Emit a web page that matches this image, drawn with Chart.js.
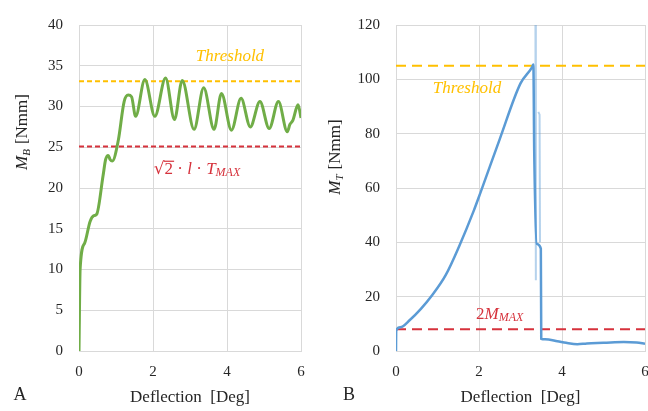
<!DOCTYPE html>
<html>
<head>
<meta charset="utf-8">
<script src="https://cdn.jsdelivr.net/npm/chart.js@4.4.1/dist/chart.umd.min.js"></script>
<style>
  html, body { margin: 0; padding: 0; background: #fff; overflow: hidden; }
  body { width: 648px; height: 411px; position: relative; }
  canvas { position: absolute; top: 0; }
  #chartA { left: 0; }
  #chartB { left: 324px; }
</style>
</head>
<body>
<canvas id="chartA" width="320" height="411"></canvas>
<canvas id="chartB" width="340" height="411"></canvas>
<script>
// panel A - bending moment vs deflection
var bendX = [0, 0.03, 0.15, 0.3, 0.4, 0.48, 0.65, 0.72, 0.79, 0.84, 0.9, 1.06, 1.22, 1.33, 1.42, 1.53, 1.78, 2.05, 2.34, 2.58, 2.79, 3.11, 3.37, 3.65, 3.85, 4.12, 4.38, 4.63, 4.89, 5.14, 5.39, 5.63, 5.7, 5.78, 5.92, 6.0];
var bendY = [0, 10, 13.2, 15.9, 16.6, 16.8, 21.5, 23.5, 24, 23.5, 23.3, 25.8, 30.6, 31.4, 31.2, 28.8, 33.3, 28.8, 33.5, 28.4, 33.2, 27.2, 32.3, 27.2, 31.6, 27.1, 31.0, 27.5, 30.6, 27.3, 30.6, 26.9, 27.8, 28.3, 30.2, 28.6];
var thresholdA = 33.1;
var limitA = 25.1;

// panel B - torsion moment vs deflection
var torsX = [0, 0.005, 0.1, 0.34, 0.6, 0.87, 1.2, 1.52, 1.87, 2.04, 2.5, 3.0, 3.28, 3.31, 3.33, 3.39, 3.49, 3.5, 3.59, 3.89, 4.1, 4.37, 4.6, 5.0, 5.49, 5.8, 6.0];
var torsY = [0, 7.5, 8.7, 11.5, 15.5, 20.5, 28, 38.5, 51.5, 58.5, 78, 98.5, 104.5, 105.5, 74, 39.5, 37.7, 4.5, 4.3, 3.6, 3.0, 2.5, 2.8, 3.0, 3.3, 3.1, 2.7];
var flashX = [3.36, 3.37, 3.4, 3.43, 3.46, 3.47];
var flashY = [120, 26, null, 88, 87, 40];
var thresholdB = 105;
var limitB = 8;

var serif = '"Liberation Serif", "Times New Roman", serif';

function pts(xs, ys) {
  return xs.map(function (x, i) { return { x: x, y: ys[i] }; });
}

function hline(v, color, dash) {
  return {
    data: [{ x: 0, y: v }, { x: 6, y: v }],
    borderColor: color, borderWidth: 2, borderDash: dash,
    pointRadius: 0, fill: false
  };
}

// draw a row of text pieces centred on (cx, cy)
function richText(ctx, parts, cx, cy) {
  var w = 0;
  parts.forEach(function (p) { ctx.font = p.f; w += ctx.measureText(p.t).width + (p.gap || 0); });
  var x = cx - w / 2;
  ctx.textBaseline = 'middle';
  ctx.textAlign = 'left';
  parts.forEach(function (p) {
    ctx.font = p.f;
    ctx.fillStyle = p.c;
    ctx.fillText(p.t, x, cy + (p.dy || 0));
    var pw = ctx.measureText(p.t).width;
    if (p.over) {
      ctx.strokeStyle = p.c;
      ctx.lineWidth = 1.2;
      ctx.beginPath();
      ctx.moveTo(x - 1, cy - 8);
      ctx.lineTo(x + pw + 1, cy - 8);
      ctx.stroke();
    }
    x += pw + (p.gap || 0);
  });
}

var labelPlugin = {
  id: 'labels',
  afterDraw: function (chart) {
    var ctx = chart.ctx, a = chart.chartArea;
    var cfg = chart.options.plugins.labels;
    var xs = chart.scales.x, ys = chart.scales.y;
    ctx.save();
    cfg.notes.forEach(function (n) {
      richText(ctx, n.parts, xs.getPixelForValue(n.x), ys.getPixelForValue(n.y));
    });
    // x title
    richText(ctx, [{ t: 'Deflection  [Deg]', f: '17px ' + serif, c: '#262626' }], (a.left + a.right) / 2, 398);
    // panel letter
    richText(ctx, [{ t: cfg.letter, f: '18px ' + serif, c: '#262626' }], cfg.letterX, 395);
    // y title
    ctx.translate(cfg.yTitleX, cfg.yTitleY);
    ctx.rotate(-Math.PI / 2);
    richText(ctx, [
      { t: 'M', f: 'italic 17px ' + serif, c: '#262626' },
      { t: cfg.sub, f: 'italic 11px ' + serif, c: '#262626', dy: 4, gap: 5 },
      { t: '[Nmm]', f: '17px ' + serif, c: '#262626' }
    ], 0, 0);
    ctx.restore();
  }
};

function baseOptions(yMax, yStep, yWidth, padRight, extra) {
  return {
    responsive: false,
    animation: false,
    layout: { padding: { left: 0, top: 14, right: padRight, bottom: 0 } },
    plugins: { legend: { display: false }, tooltip: { enabled: false }, labels: extra },
    scales: {
      x: {
        type: 'linear', min: 0, max: 6,
        ticks: { stepSize: 2, padding: 12, color: '#262626', font: { family: serif, size: 15 } },
        grid: { color: '#D9D9D9', drawTicks: false },
        border: { color: '#D9D9D9' },
        afterFit: function (s) { s.height = 60; }
      },
      y: {
        min: 0, max: yMax,
        ticks: { stepSize: yStep, padding: 16, color: '#262626', font: { family: serif, size: 15 } },
        grid: { color: '#D9D9D9', drawTicks: false },
        border: { color: '#D9D9D9' },
        afterFit: function (s) { s.width = yWidth; }
      }
    }
  };
}

var red = '#D6323C';
var gold = '#FFC000';

new Chart(document.getElementById('chartA').getContext('2d'), {
  type: 'line',
  data: {
    datasets: [
      {
        data: pts(bendX, bendY), borderColor: '#70AD47', borderWidth: 3,
        pointRadius: 0, cubicInterpolationMode: 'monotone', fill: false
      },
      hline(thresholdA, gold, [5, 3]),
      hline(limitA, red, [5, 3])
    ]
  },
  options: baseOptions(40, 5, 79, 19, {
    letter: 'A', letterX: 20, sub: 'B', yTitleX: 23, yTitleY: 132,
    notes: [
      { x: 4.08, y: 36.1, parts: [{ t: 'Threshold', f: 'italic 17px ' + serif, c: gold }] },
      { x: 3.19, y: 22.3, parts: [
        { t: '\u221A', f: '17px "DejaVu Serif", serif', c: red },
        { t: '2', f: '17px ' + serif, c: red, over: true },
        { t: ' \u00B7 ', f: '17px ' + serif, c: red },
        { t: 'l', f: 'italic 17px ' + serif, c: red },
        { t: ' \u00B7 ', f: '17px ' + serif, c: red },
        { t: 'T', f: 'italic 17px ' + serif, c: red },
        { t: 'MAX', f: 'italic 12px ' + serif, c: red, dy: 4 }
      ] }
    ]
  }),
  plugins: [labelPlugin]
});

new Chart(document.getElementById('chartB').getContext('2d'), {
  type: 'line',
  data: {
    datasets: [
      {
        data: pts(torsX, torsY), borderColor: '#5B9BD5', borderWidth: 2.5,
        pointRadius: 0, cubicInterpolationMode: 'monotone', fill: false
      },
      {
        data: pts(flashX, flashY), borderColor: 'rgba(91,155,213,0.45)', borderWidth: 2,
        pointRadius: 0, spanGaps: false, fill: false
      },
      hline(thresholdB, gold, [10, 6]),
      hline(limitB, red, [10, 6])
    ]
  },
  options: baseOptions(120, 20, 72, 19, {
    letter: 'B', letterX: 25, sub: 'T', yTitleX: 12, yTitleY: 157,
    notes: [
      { x: 1.71, y: 96.5, parts: [{ t: 'Threshold', f: 'italic 17px ' + serif, c: gold }] },
      { x: 2.5, y: 13.5, parts: [
        { t: '2', f: '17px ' + serif, c: red },
        { t: 'M', f: 'italic 17px ' + serif, c: red },
        { t: 'MAX', f: 'italic 12px ' + serif, c: red, dy: 4 }
      ] }
    ]
  }),
  plugins: [labelPlugin]
});
</script>
</body>
</html>
